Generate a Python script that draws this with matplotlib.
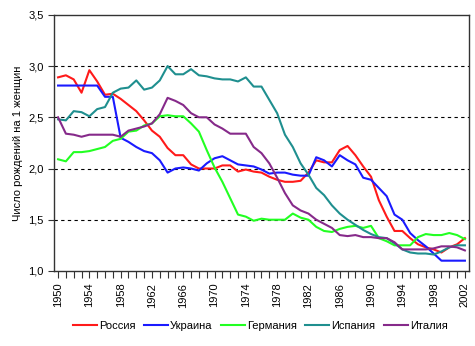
import matplotlib
matplotlib.use("Agg")
import matplotlib.pyplot as plt
import numpy as np

# fertility (births per woman), 1950-2002
years = list(range(1950, 2003))

russia = [2.89, 2.91, 2.87, 2.74, 2.96, 2.85, 2.72, 2.73, 2.68, 2.62,
          2.56, 2.47, 2.37, 2.31, 2.20, 2.13, 2.13, 2.04, 2.00, 2.00,
          2.00, 2.03, 2.03, 1.97, 1.99, 1.97, 1.96, 1.92, 1.89, 1.87,
          1.87, 1.88, 1.96, 2.08, 2.06, 2.06, 2.18, 2.22, 2.13, 2.02,
          1.92, 1.69, 1.53, 1.39, 1.39, 1.32, 1.26, 1.23, 1.21, 1.18,
          1.23, 1.26, 1.32]
ukraine = [2.81, 2.81, 2.81, 2.81, 2.81, 2.81, 2.70, 2.70, 2.30, 2.26,
           2.21, 2.17, 2.15, 2.08, 1.96, 2.00, 2.01, 2.00, 1.98, 2.05,
           2.10, 2.12, 2.08, 2.04, 2.03, 2.02, 1.99, 1.95, 1.96, 1.96,
           1.94, 1.93, 1.93, 2.11, 2.08, 2.02, 2.13, 2.08, 2.04, 1.91,
           1.89, 1.81, 1.73, 1.55, 1.50, 1.37, 1.30, 1.24, 1.17, 1.10,
           1.10, 1.10, 1.10]
germany = [2.09, 2.07, 2.16, 2.16, 2.17, 2.19, 2.21, 2.27, 2.29, 2.36,
           2.37, 2.42, 2.44, 2.51, 2.52, 2.51, 2.51, 2.44, 2.36, 2.18,
           2.01, 1.87, 1.71, 1.55, 1.53, 1.49, 1.51, 1.50, 1.50, 1.50,
           1.56, 1.52, 1.50, 1.43, 1.39, 1.38, 1.41, 1.43, 1.44, 1.42,
           1.44, 1.32, 1.29, 1.25, 1.25, 1.25, 1.33, 1.36, 1.35, 1.35,
           1.37, 1.35, 1.31]
spain = [2.48, 2.47, 2.56, 2.55, 2.51, 2.58, 2.60, 2.74, 2.78, 2.79,
         2.86, 2.77, 2.79, 2.86, 3.00, 2.92, 2.92, 2.97, 2.91, 2.90,
         2.88, 2.87, 2.87, 2.85, 2.89, 2.80, 2.80, 2.67, 2.54, 2.33,
         2.21, 2.05, 1.94, 1.81, 1.74, 1.64, 1.56, 1.50, 1.45, 1.40,
         1.36, 1.33, 1.32, 1.27, 1.21, 1.18, 1.17, 1.17, 1.16, 1.19,
         1.23, 1.25, 1.25]
italy = [2.50, 2.34, 2.33, 2.31, 2.33, 2.33, 2.33, 2.33, 2.31, 2.37,
         2.39, 2.41, 2.44, 2.53, 2.69, 2.66, 2.62, 2.54, 2.50, 2.50,
         2.43, 2.39, 2.34, 2.34, 2.34, 2.21, 2.15, 2.05, 1.91, 1.76,
         1.64, 1.59, 1.56, 1.50, 1.46, 1.42, 1.35, 1.34, 1.35, 1.33,
         1.33, 1.32, 1.32, 1.28, 1.21, 1.21, 1.21, 1.21, 1.22, 1.24,
         1.24, 1.23, 1.20]

series = [("Россия", russia, "#ff1a1a"),
          ("Украина", ukraine, "#1a1aff"),
          ("Германия", germany, "#22ff22"),
          ("Испания", spain, "#1f8f8f"),
          ("Италия", italy, "#862a8a")]

plt.rcParams['font.family'] = ['Liberation Sans', 'DejaVu Sans']

fig = plt.figure(figsize=(4.75, 3.46), dpi=100)
ax = fig.add_axes([0.114, 0.217, 0.873, 0.740])

for name, vals, col in series:
    ax.plot(years, vals, color=col, linewidth=1.5, label=name)

ax.set_xlim(1949.5, 2002.5)
ax.set_ylim(1.0, 3.5)
ax.set_yticks(np.arange(1.0, 3.51, 0.5))
ax.set_yticklabels([f"{v:.1f}".replace(".", ",") for v in np.arange(1.0, 3.51, 0.5)],
                   fontsize=8)
ax.set_xticks(list(range(1950, 2003, 4)))
ax.set_xticklabels([str(y) for y in range(1950, 2003, 4)],
                   rotation=90, fontsize=8)
ax.set_xticks(years, minor=True)
ax.tick_params(axis='x', which='both', direction='out', length=5, width=0.8,
               colors='#333333', labelcolor='black')
ax.tick_params(axis='y', direction='out', length=4, width=0.8,
               colors='#333333', labelcolor='black')

for v in [1.5, 2.0, 2.5, 3.0]:
    ax.axhline(v, color='black', linestyle=(0, (3, 3)), linewidth=0.8, zorder=0)

for s in ax.spines.values():
    s.set_color('#333333')
    s.set_linewidth(1.0)

ax.set_ylabel("Число рождений на 1 женщин", fontsize=8)

fig.legend(loc='center', bbox_to_anchor=(0.548, 0.058), ncol=5, frameon=False,
           fontsize=8, handlelength=2.15, handletextpad=0.2, columnspacing=0.75,
           borderpad=0.2)

fig.savefig("out.png", dpi=100)
